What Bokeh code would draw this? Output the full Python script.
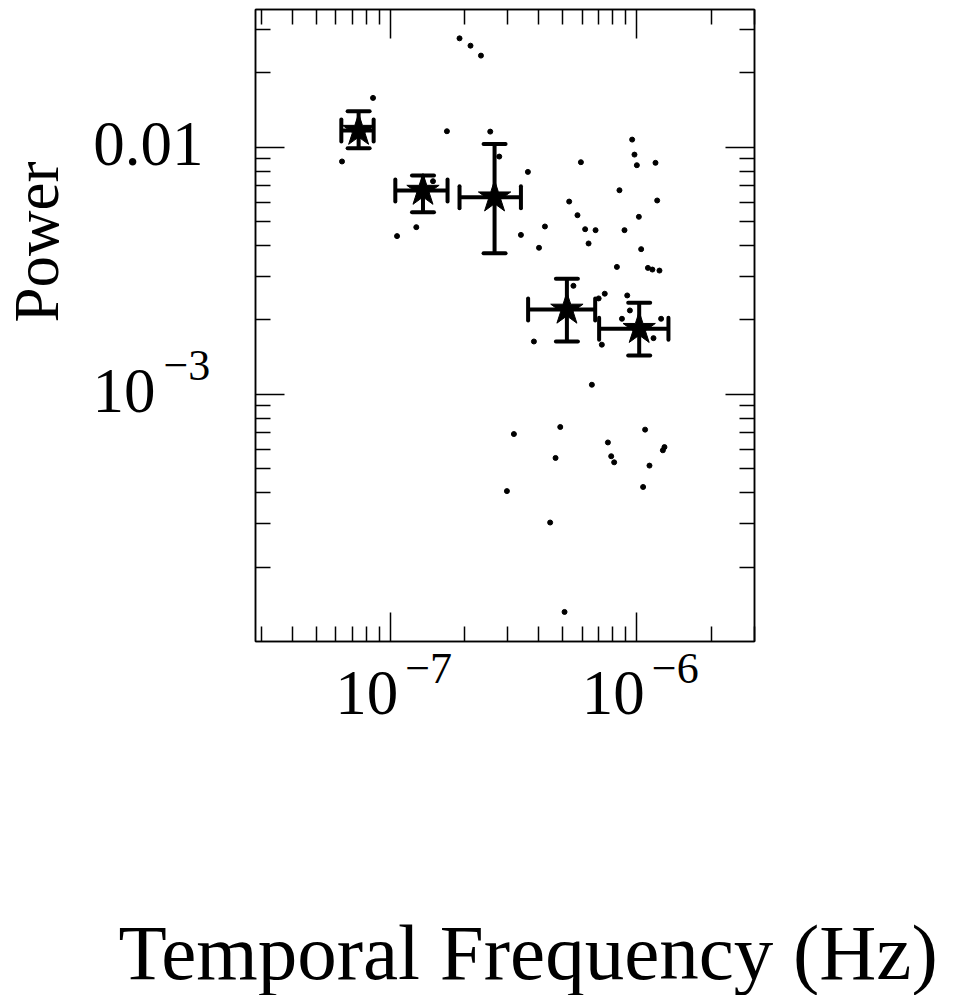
import math
from bokeh.plotting import figure
from bokeh.models import (Range1d, FixedTicker, LogAxis, Label, Whisker,
                          TeeHead, ColumnDataSource)
from bokeh.embed import file_html
from bokeh.resources import INLINE

FONT = "Liberation Serif"

# ---------------- data ----------------
# binned power spectrum (stars with error bars)
STAR_F = [7.44e-8, 1.357e-7, 2.648e-7, 5.203e-7, 1.022e-6]
STAR_P = [0.01168, 0.00668, 0.00628, 0.002207, 0.001844]
STAR_P_LO = [0.00991, 0.00546, 0.003727, 0.001637, 0.001438]
STAR_P_HI = [0.01398, 0.00768, 0.01032, 0.002937, 0.002348]
STAR_F_LO = [6.33e-8, 1.048e-7, 1.909e-7, 3.622e-7, 7.03e-7]
STAR_F_HI = [8.56e-8, 1.707e-7, 3.387e-7, 6.776e-7, 1.343e-6]

# raw periodogram points (dots)
DOT_F = [1.909e-7, 2.115e-7, 2.332e-7, 8.51e-8, 1.697e-7, 2.543e-7, 2.766e-7,
         6.37e-8, 1.490e-7, 1.275e-7, 1.065e-7, 9.57e-7, 9.78e-7, 1.0e-6,
         1.190e-6, 5.93e-7, 3.615e-7, 8.50e-7, 1.209e-6, 5.315e-7, 5.743e-7,
         1.019e-6, 4.238e-7, 3.387e-7, 6.17e-7, 6.80e-7, 8.91e-7, 6.37e-7,
         4.01e-7, 1.041e-6, 8.30e-7, 1.109e-6, 1.156e-6, 1.235e-6, 5.53e-7,
         7.41e-7, 7.00e-7, 9.14e-7, 9.37e-7, 8.70e-7, 1.254e-6, 1.168e-6,
         7.21e-7, 3.824e-7, 6.57e-7, 3.172e-7, 4.89e-7, 4.68e-7, 7.63e-7,
         7.87e-7, 8.09e-7, 1.080e-6, 1.294e-6, 1.275e-6, 1.125e-6, 1.060e-6,
         2.972e-7, 4.45e-7, 5.09e-7]
DOT_P = [0.02759, 0.02577, 0.02349, 0.01584, 0.01161, 0.01157, 0.00917,
         0.00876, 0.00729, 0.00475, 0.00437, 0.01074, 0.00934, 0.00846,
         0.00865, 0.00870, 0.00795, 0.00670, 0.00609, 0.00603, 0.00531,
         0.00523, 0.00478, 0.00442, 0.00466, 0.00462, 0.00462, 0.00408,
         0.00392, 0.00387, 0.00328, 0.00325, 0.00320, 0.00317, 0.00275,
         0.002555, 0.002445, 0.002514, 0.002186, 0.002023, 0.002023, 0.001689,
         0.001589, 0.001637, 0.001094, 0.000691, 0.000738, 0.000553, 0.000639,
         0.000562, 0.000531, 0.000720, 0.000612, 0.000594, 0.000515, 0.000422,
         0.000406, 0.000303, 0.0001317]

# axes
X_START, X_END = 2.84e-8, 3.0e-6
Y_START, Y_END = 1.0e-4, 0.0361
X_MAJOR = [1e-7, 1e-6]
X_MINOR = [3e-8, 4e-8, 5e-8, 6e-8, 7e-8, 8e-8, 9e-8,
           2e-7, 3e-7, 4e-7, 5e-7, 6e-7, 7e-7, 8e-7, 9e-7, 2e-6, 3e-6]
Y_MAJOR = [1e-3, 1e-2]
Y_MINOR = [2e-4, 3e-4, 4e-4, 5e-4, 6e-4, 7e-4, 8e-4, 9e-4,
           2e-3, 3e-3, 4e-3, 5e-3, 6e-3, 7e-3, 8e-3, 9e-3, 2e-2, 3e-2]

X_TICK_BASE = ["10", "10"]
X_TICK_EXP = ["\u22127", "\u22126"]
Y_TICK_VALUES = [1e-2, 1e-3]
Y_TICK_BASE = ["0.01", "10"]
Y_TICK_EXP = ["", "\u22123"]

X_LABEL = "Temporal Frequency (Hz)"
Y_LABEL = "Power"

# ---------------- figure ----------------
p = figure(x_axis_type="log", y_axis_type="log",
           x_range=Range1d(X_START, X_END), y_range=Range1d(Y_START, Y_END),
           frame_width=499, frame_height=632,
           min_border_left=255, min_border_right=195,
           min_border_top=9, min_border_bottom=354,
           output_backend="svg", toolbar_location=None)
p.background_fill_color = "white"
p.border_fill_color = "white"
p.outline_line_color = "black"
p.outline_line_width = 1.5
p.xgrid.grid_line_color = None
p.ygrid.grid_line_color = None


def style_axis(ax, major, minor):
    ax.ticker = FixedTicker(ticks=major, minor_ticks=minor)
    ax.major_tick_in = 29
    ax.major_tick_out = 0
    ax.minor_tick_in = 15
    ax.minor_tick_out = 0
    ax.major_tick_line_width = 1.5
    ax.minor_tick_line_width = 1.5
    ax.major_tick_line_color = "black"
    ax.minor_tick_line_color = "black"
    ax.axis_line_width = 1.5
    ax.axis_line_color = "black"
    ax.major_label_text_font_size = "0px"
    ax.major_label_standoff = 0
    ax.major_label_overrides = {t: "" for t in major}


style_axis(p.xaxis[0], X_MAJOR, X_MINOR)
style_axis(p.yaxis[0], Y_MAJOR, Y_MINOR)
top_ax = LogAxis()
style_axis(top_ax, X_MAJOR, X_MINOR)
p.add_layout(top_ax, "above")
right_ax = LogAxis()
style_axis(right_ax, Y_MAJOR, Y_MINOR)
p.add_layout(right_ax, "right")

# dots
p.scatter(DOT_F, DOT_P, size=5, color="black")

# error bars
src = ColumnDataSource(dict(f=STAR_F, p=STAR_P, plo=STAR_P_LO, phi=STAR_P_HI,
                            flo=STAR_F_LO, fhi=STAR_F_HI))


def head():
    return TeeHead(size=22, line_width=4, line_color="black", line_cap="round")


p.add_layout(Whisker(source=src, base="f", lower="plo", upper="phi",
                     dimension="height", line_width=4, line_color="black",
                     upper_head=head(), lower_head=head()))
p.add_layout(Whisker(source=src, base="p", lower="flo", upper="fhi",
                     dimension="width", line_width=4, line_color="black",
                     upper_head=head(), lower_head=head()))

# stars
p.scatter("f", "p", source=src, marker="star", size=34,
          fill_color="black", line_color="black")


def lab(side, **kw):
    kw.setdefault("text_font", FONT)
    kw.setdefault("text_baseline", "alphabetic")
    kw.setdefault("text_color", "black")
    p.add_layout(Label(**kw), side)


# tick labels (placed in side panels so they are not clipped to the frame)
for t, b, e in zip(X_MAJOR, X_TICK_BASE, X_TICK_EXP):
    lab("below", x=t, y=Y_START, text=b, x_offset=-55, y_offset=-51,
        text_font_size="63px", text_align="left")
    lab("right", x=t, y=Y_START, text=e, x_offset=15, y_offset=-27,
        text_font_size="44px", text_align="left")

for t, b, e in zip(Y_TICK_VALUES, Y_TICK_BASE, Y_TICK_EXP):
    if e:
        lab("right", x=X_START, y=t, text=b, x_offset=-100, y_offset=3,
            text_font_size="63px", text_align="right")
        lab("below", x=X_START, y=t, text=e, x_offset=-92, y_offset=29,
            text_font_size="44px", text_align="left")
    else:
        lab("left", x=X_START, y=t, text=b, x_offset=-52, y_offset=3,
            text_font_size="63px", text_align="right")

# axis titles
lab("below", x=X_START, y=Y_START, text=X_LABEL, x_offset=-137,
    y_offset=-311, text_font_size="79px", text_align="left")
lab("left", x=X_START, y=Y_START, text=Y_LABEL, x_offset=-219,
    y_offset=319, angle=math.pi / 2, text_font_size="63px",
    text_align="left")

open("out.html", "w").write(file_html(p, INLINE))
